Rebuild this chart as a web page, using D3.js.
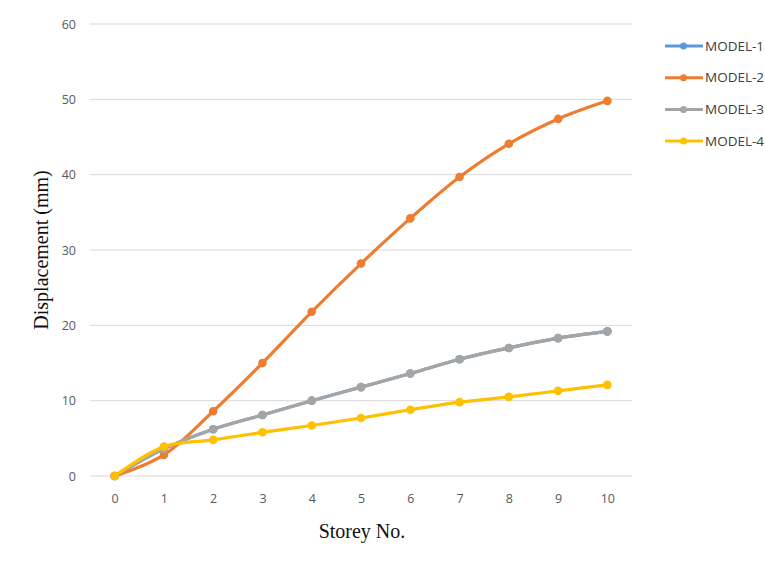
<!DOCTYPE html>
<html><head><meta charset="utf-8">
<script src="https://cdn.jsdelivr.net/npm/d3@7"></script>
<style>body{margin:0;background:#fff}svg{display:block}</style>
</head><body>
<svg id="c" width="765" height="563"></svg>
<script>
const storeys = [0,1,2,3,4,5,6,7,8,9,10];
const model1 = [0,3.6,6.2,8.1,10.0,11.8,13.6,15.5,17.0,18.3,19.2];
const model2 = [0,2.8,8.6,15.0,21.8,28.2,34.2,39.7,44.1,47.4,49.8];
const model3 = [0,3.6,6.2,8.1,10.0,11.8,13.6,15.5,17.0,18.3,19.2];
const model4 = [0,3.9,4.8,5.8,6.7,7.7,8.8,9.8,10.5,11.3,12.1];
const seriesNames = ["MODEL-1","MODEL-2","MODEL-3","MODEL-4"];
const colors = ["#5B9BD5","#ED7D31","#A5A5A5","#FFC000"];
const yTicks = [0,10,20,30,40,50,60];

const svg = d3.select("#c");
const L = 90, R = 632, T = 24, B = 476;
const x = d3.scalePoint().domain(storeys).range([L,R]).padding(0.5);
const y = d3.scaleLinear().domain([0,60]).range([B,T]);

svg.append("g").selectAll("line").data(yTicks).join("line")
  .attr("x1",L).attr("x2",R).attr("y1",d=>y(d)).attr("y2",d=>y(d))
  .attr("stroke","#d9d9d9").attr("stroke-width",1);

const yAx = svg.append("g").attr("transform",`translate(${L},0)`)
  .call(d3.axisLeft(y).tickValues(yTicks).tickSize(0).tickPadding(14));
yAx.select(".domain").remove();
yAx.selectAll("text").attr("font-family","'Open Sans', sans-serif").attr("font-size",12.5).attr("fill","#595959");

const xAx = svg.append("g").attr("transform",`translate(0,${B})`)
  .call(d3.axisBottom(x).tickSize(0).tickPadding(18));
xAx.select(".domain").remove();
xAx.selectAll("text").attr("font-family","'Open Sans', sans-serif").attr("font-size",12.5).attr("fill","#595959");

const all = [model1, model2, model3, model4];
const line = d3.line().x((d,i)=>x(storeys[i])).y(d=>y(d)).curve(d3.curveCatmullRom.alpha(0.5));
all.forEach((vals,k)=>{
  const g = svg.append("g");
  g.append("path").datum(vals).attr("d",line).attr("fill","none")
    .attr("stroke",colors[k]).attr("stroke-width",3.2).attr("stroke-linejoin","round");
  g.selectAll("circle").data(vals).join("circle")
    .attr("cx",(d,i)=>x(storeys[i])).attr("cy",d=>y(d)).attr("r",4.3).attr("fill",colors[k]);
});

const lg = svg.append("g");
seriesNames.forEach((n,k)=>{
  const yy = 46 + k*31.7;
  lg.append("line").attr("x1",665).attr("x2",703).attr("y1",yy).attr("y2",yy)
    .attr("stroke",colors[k]).attr("stroke-width",3);
  lg.append("circle").attr("cx",683.5).attr("cy",yy).attr("r",3.5).attr("fill",colors[k]);
  lg.append("text").attr("x",705).attr("y",yy).attr("dy","0.35em")
    .attr("font-family","'Open Sans', sans-serif").attr("font-size",13.5).attr("fill","#404040").text(n);
});

svg.append("text").attr("transform","translate(48,250) rotate(-90)").attr("text-anchor","middle")
  .attr("font-family","'Liberation Serif', 'Times New Roman', serif").attr("font-size",20).attr("fill","#111")
  .text("Displacement (mm)");
svg.append("text").attr("x",362).attr("y",538).attr("text-anchor","middle")
  .attr("font-family","'Liberation Serif', 'Times New Roman', serif").attr("font-size",20).attr("fill","#111")
  .text("Storey No.");
</script>
</body></html>
